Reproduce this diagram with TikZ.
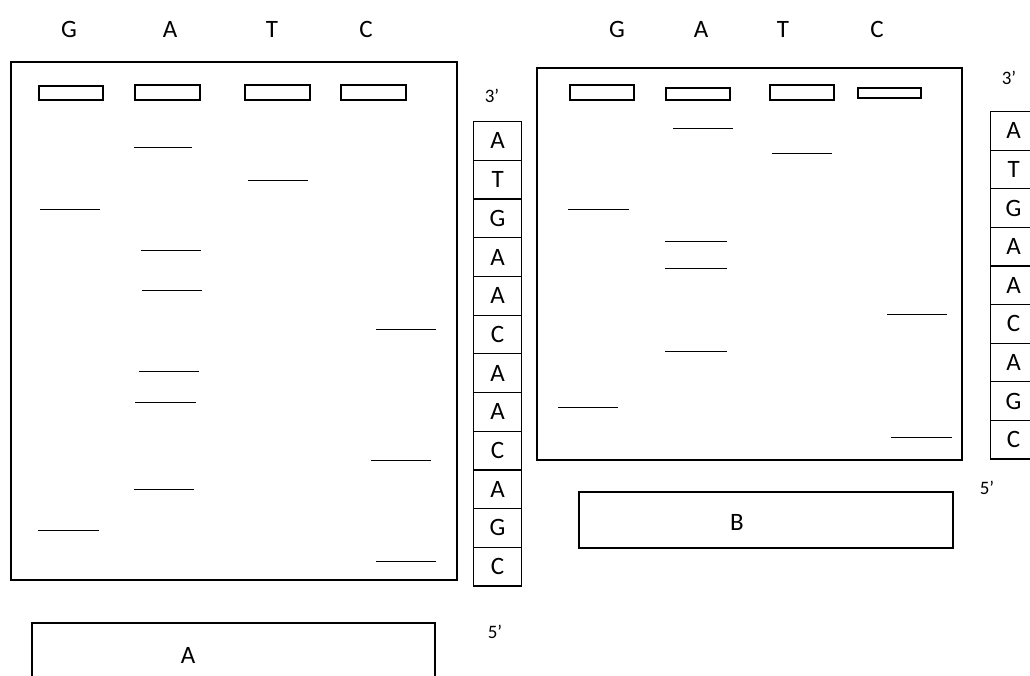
\documentclass[tikz,border=0pt]{standalone}
\usepackage{fontspec}
\setmainfont{Carlito}
\begin{document}
\begin{tikzpicture}[x=1pt,y=-1pt,
  lbl/.style={font=\fontsize{25}{30}\selectfont, inner sep=0pt},
  endlbl/.style={font=\fontsize{19}{23}\selectfont, inner sep=0pt},
  gel/.style={draw, line width=2.6pt},
  well/.style={draw, line width=2.4pt},
  band/.style={draw, line width=1pt},
  cell/.style={draw, line width=1.2pt, minimum width=48pt, minimum height=38.7pt,
               inner sep=0pt, font=\fontsize{25}{30}\selectfont, anchor=north west},
  cellR/.style={cell, minimum width=46pt, minimum height=38.6pt},
  namebox/.style={draw, line width=1.2pt}]
\useasboundingbox (0,0) rectangle (1030,675);
\clip (0,0) rectangle (1030,675);

% ---------- gel A ----------
\node[lbl] (hGa) at (69,29) {G};
\node[lbl] (hAa) at (170,29) {A};
\node[lbl] (hTa) at (272,29) {T};
\node[lbl] (hCa) at (366,29) {C};
\draw[gel] (11,62) rectangle (457,580);
\draw[well] (39,86) rectangle (103,100);
\draw[well] (135,85) rectangle (200,100);
\draw[well] (245,85) rectangle (310,100);
\draw[well] (341,85) rectangle (406,100);
\node[endlbl] (tA) at (492,96) {3’};
\node[endlbl] (fA) at (495,632) {5’};

% bands of gel A
\draw[band] (134,147) -- (192,147);
\draw[band] (248,180) -- (308,180);
\draw[band] (40,209) -- (100,209);
\draw[band] (141,250) -- (201,250);
\draw[band] (142,290) -- (202,290);
\draw[band] (376,329) -- (436,329);
\draw[band] (139,371) -- (199,371);
\draw[band] (135,402) -- (196,402);
\draw[band] (371,460) -- (431,460);
\draw[band] (134,489) -- (194,489);
\draw[band] (38,530) -- (99,530);
\draw[band] (376,561) -- (436,561);

% read-off sequence of gel A
\foreach \b [count=\i] in {A,T,G,A,A,C,A,A,C,A,G,C}
  \node[cell] (sA\i) at (473,{121+(\i-1)*38.7}) {\b};

\draw[namebox] (32,623) rectangle (435,690);
\node[lbl] (nA) at (188,655) {A};

% ---------- gel B ----------
\node[lbl] (hGb) at (617,29) {G};
\node[lbl] (hAb) at (701,29) {A};
\node[lbl] (hTb) at (783,29) {T};
\node[lbl] (hCb) at (877,29) {C};
\draw[gel] (537,68) rectangle (962,460);
\draw[well] (570,85) rectangle (634,100);
\draw[well] (666,88) rectangle (730,100);
\draw[well] (770,85) rectangle (834,100);
\draw[well] (858,88) rectangle (921,98);
\node[endlbl] (tB) at (1009,78) {3’};
\node[endlbl] (fB) at (987,488) {5’};

% bands of gel B
\draw[band] (673,128) -- (733,128);
\draw[band] (772,153) -- (832,153);
\draw[band] (568,209) -- (629,209);
\draw[band] (665,241) -- (727,241);
\draw[band] (665,268) -- (727,268);
\draw[band] (887,314) -- (947,314);
\draw[band] (665,351) -- (727,351);
\draw[band] (558,407) -- (618,407);
\draw[band] (891,437) -- (952,437);

% read-off sequence of gel B
\foreach \b [count=\i] in {A,T,G,A,A,C,A,G,C}
  \node[cellR] (sB\i) at (990,{111+(\i-1)*38.6}) {\b};

\draw[namebox] (579,492) rectangle (953,548);
\node[lbl] (nB) at (737,522) {B};
\end{tikzpicture}
\end{document}
